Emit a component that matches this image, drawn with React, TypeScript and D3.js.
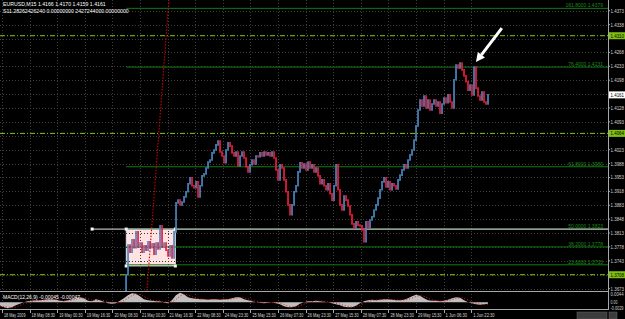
import React from 'react';
import * as d3 from 'd3';

const W = 625;
const H = 319;
const PLOT_R = 608;
const MAIN_BOT = 291;

// time axis labels (one every 64 M15 bars)
const timeLabels = [
  '18 May 2009', '18 May 08:30', '19 May 00:30', '19 May 16:30', '20 May 08:30', '21 May 00:30',
  '21 May 16:30', '22 May 08:30', '24 May 23:30', '25 May 15:30', '26 May 07:30', '26 May 23:30',
  '27 May 15:30', '28 May 07:30', '28 May 23:30', '29 May 15:30', '1 Jun 06:30', '1 Jun 22:30',
];
const BARS_PER_LABEL = 64;
const FIRST_LABEL_BAR = -64;

// price axis tick labels
const priceTicks = [
  1.4373, 1.4338, 1.4303, 1.4268, 1.4233, 1.4198, 1.4163, 1.4128, 1.4093, 1.4058, 1.4023,
  1.3988, 1.3953, 1.3918, 1.3883, 1.3848, 1.3813, 1.3778, 1.3743, 1.3708, 1.3673,
];

// EURUSD closes (resampled), first/last bar indexes
const FIRST_BAR = 219;
const LAST_BAR = 1063;
const closesA = [
  1.3645, 1.3708, 1.3783, 1.3765, 1.3796, 1.3776, 1.3816, 1.3778, 1.3788, 1.3765, 1.3781, 1.3770, 1.3791,
  1.3776, 1.3786, 1.3760, 1.3788, 1.3773, 1.3831, 1.3778, 1.3788, 1.3770, 1.3755, 1.3781, 1.3750, 1.3816,
];
const closesB = [
  1.3889, 1.3896, 1.3884, 1.3891, 1.3904, 1.3917, 1.3937, 1.3952, 1.3932, 1.3927, 1.3942, 1.3904, 1.3932,
  1.3957, 1.3962, 1.3977, 1.3992, 1.3997, 1.4015, 1.4022, 1.4035, 1.4045, 1.4017, 1.4007, 1.3990, 1.4022,
  1.4040, 1.4032, 1.4015, 1.4007, 1.4017, 1.3982, 1.4007, 1.4017, 1.4002, 1.3980, 1.3967, 1.3985, 1.3997,
  1.3987, 1.4007, 1.4005, 1.4015, 1.4007, 1.4017, 1.4010, 1.4015, 1.4007, 1.4017, 1.4002, 1.3972, 1.3947,
  1.3985, 1.3977, 1.3947, 1.3917, 1.3884, 1.3859, 1.3884, 1.3917, 1.3932, 1.3967, 1.3990,
];
const closesC = [
  1.3977, 1.3987, 1.3972, 1.3992, 1.3977, 1.3985, 1.3967, 1.3977, 1.3957, 1.3937, 1.3947, 1.3932, 1.3922,
  1.3937, 1.3912, 1.3896, 1.3932, 1.3985, 1.3922, 1.3884, 1.3871, 1.3906, 1.3896, 1.3881, 1.3859, 1.3836,
  1.3826, 1.3841, 1.3833, 1.3831, 1.3821, 1.3791, 1.3841, 1.3826, 1.3846, 1.3854, 1.3871, 1.3884, 1.3901,
  1.3922, 1.3942, 1.3952, 1.3929, 1.3942, 1.3922, 1.3937, 1.3932, 1.3924, 1.3947, 1.3959, 1.3972, 1.3985,
  1.3977, 1.3997, 1.4010, 1.4022, 1.4047, 1.4083,
];
const closesD = [
  1.4123, 1.4148, 1.4133, 1.4158, 1.4128, 1.4148, 1.4123, 1.4138, 1.4148, 1.4133, 1.4143, 1.4115, 1.4138,
  1.4153, 1.4141, 1.4161, 1.4143, 1.4128, 1.4199, 1.4236, 1.4229, 1.4241, 1.4224, 1.4209, 1.4194, 1.4173,
  1.4186, 1.4161, 1.4231, 1.4178, 1.4158, 1.4148, 1.4168, 1.4143, 1.4138, 1.4161,
];
const closes = [...closesA, ...closesB, ...closesC, ...closesD];

// MACD main (histogram) values, first/last bar
const MACD_FIRST_BAR = -69;
const macdHist = [
  -0.00175, -0.0025, -0.003, -0.0025, -0.0015, -0.00075, 0, 0.0005, 0.00075, 0.001, 0.001, 0.00125, 0.0015,
  0.0015, 0.00125, 0.00075, 0.0005, 0.001, 0.0015, 0.002, 0.0025, 0.002, 0.00075, 0.0005, 0.0015, 0.001,
  0.00025, -0.0005, -0.00075, -0.0005, 0.00075, 0.002, 0.0035, 0.0045, 0.00425, 0.003, 0.0015, 0.001,
  0.00075, 0.0005, 0.0005, -0.00025, -0.0005, 0.001, 0.0035, 0.00475, 0.004, 0.0025, 0.002, 0.00175,
  0.0015, 0.0015, 0.00125, 0.0015, 0.0015, 0.00125, 0.0015, 0.0015, 0.002, 0.0025, 0.0025, 0.0015, 0.001,
  0.0005, 0, -0.00025, -0.0005, -0.00025, 0, -0.0005, -0.001, -0.002, -0.0025, -0.0025, -0.002, -0.00075,
  0, 0.0005, 0.0005, 0.00075, 0.0005, 0.00025, 0, -0.0005, -0.001, -0.0015, -0.00225, -0.0025, -0.0025,
  -0.00175, -0.0005, 0.0005, 0.001, 0.00125, 0.001, 0.00125, 0.0015, 0.0015, 0.00125, 0.001, 0.001,
  0.00125, 0.002, 0.003, 0.00375, 0.00325, 0.002, 0.001, 0.00075, 0.00075, 0.0005, 0.00075, 0.00125,
  0.002, 0.0025, 0.00225, 0.001, 0, -0.0005, -0.001, -0.00125, -0.001, -0.00075,
];

// Fibonacci levels drawn on chart
const fibNames = ['161.8000', '76.4000', '61.8000', '50.0000', '38.2000', '23.6000'];
const fibPrices = [1.4379, 1.4231, 1.3980, 1.3823, 1.3778, 1.3733];
const FIB_START_BAR = 224;

// horizontal dash-dot levels
const levelPrices = [1.4310, 1.4064, 1.3708];
const CURRENT_PRICE = 1.4161;

// horizontal gray line, rectangle, trend line, arrow
const hLinePrice = 1.3823;
const HLINE_START_BAR = 145;
const boxBars = [224, 338];
const boxPrices = [1.3730, 1.3823];
const trendBars = [272, 323];
const trendPrices = [1.3667, 1.4400];
const arrowBars = [1095, 1035];
const arrowPrices = [1.4329, 1.4244];

const FONT = 'Liberation Sans, Arial, sans-serif';

export default function App() {
  const x = d3.scaleLinear().domain([0, BARS_PER_LABEL]).range([29.6, 57.2]);
  const y = d3.scaleLinear().domain([1.3667, 1.44]).range([MAIN_BOT, 0]);
  const ym = d3.scaleLinear().domain([-0.0029, 0.0044]).range([308, 293.5]);

  const step = (LAST_BAR - FIRST_BAR) / (closes.length - 1);
  const bars = closes.map((c, i) => {
    const o = i === 0 ? c : closes[i - 1];
    return { bx: x(FIRST_BAR + i * step), hi: Math.max(o, c), lo: Math.min(o, c), up: c >= o };
  });

  const mstep = (LAST_BAR - MACD_FIRST_BAR) / (macdHist.length - 1);
  const mpts = macdHist.map((v, i) => ({ mx: x(MACD_FIRST_BAR + i * mstep), v }));
  const signal = mpts.map((p, i) => {
    const win = macdHist.slice(Math.max(0, i - 2), i + 1);
    return { mx: p.mx, v: d3.mean(win) as number };
  });
  const area = d3.area<{ mx: number; v: number }>().x((d) => d.mx).y0(ym(0)).y1((d) => ym(d.v));
  const sigLine = d3.line<{ mx: number; v: number }>().x((d) => d.mx).y((d) => ym(d.v));

  const tickXs = timeLabels.map((_, i) => x(FIRST_LABEL_BAR + i * BARS_PER_LABEL));
  const priceYs = priceTicks.map((p) => y(p));
  const highlightYs = [...levelPrices, CURRENT_PRICE].map((p) => y(p));

  const tx0 = x(trendBars[0]), ty0 = y(trendPrices[0]);
  const tx1 = x(trendBars[1]), ty1 = y(trendPrices[1]);

  const ax0 = x(arrowBars[0]), ay0 = y(arrowPrices[0]);
  const ax1 = x(arrowBars[1]), ay1 = y(arrowPrices[1]);
  const ang = Math.atan2(ay1 - ay0, ax1 - ax0);
  const hl = 9, hw = 4.5;
  const bxp = ax1 - hl * Math.cos(ang), byp = ay1 - hl * Math.sin(ang);
  const head = [
    [ax1, ay1],
    [bxp + hw * Math.sin(ang), byp - hw * Math.cos(ang)],
    [bxp - hw * Math.sin(ang), byp + hw * Math.cos(ang)],
  ];

  const bx0 = x(boxBars[0]), bx1 = x(boxBars[1]);
  const by0 = y(boxPrices[1]), by1 = y(boxPrices[0]);

  return (
    <svg width={W} height={H} style={{ position: 'absolute', left: 0, top: 0, background: '#000' }}>
      <defs>
        <clipPath id="mainClip">
          <rect x={0} y={0} width={PLOT_R} height={MAIN_BOT} />
        </clipPath>
        <clipPath id="macdClip">
          <rect x={0} y={292} width={PLOT_R} height={17} />
        </clipPath>
      </defs>
      <rect x={0} y={0} width={W} height={H} fill="#000" />

      {/* rectangle object (background) */}
      <rect x={bx0} y={by0} width={bx1 - bx0} height={by1 - by0} fill="#ffe2e2" stroke="#e8e8e8" strokeWidth={0.8} />

      {/* grid */}
      <g stroke="#3c3c3c" strokeWidth={1} strokeDasharray="1,2" shapeRendering="crispEdges">
        {priceYs.map((py, i) => (
          <line key={'hg' + i} x1={0} x2={PLOT_R} y1={Math.round(py) + 0.5} y2={Math.round(py) + 0.5} />
        ))}
        {tickXs.map((tx, i) => (
          <line key={'vg' + i} x1={Math.round(tx) + 0.5} x2={Math.round(tx) + 0.5} y1={0} y2={308} />
        ))}
      </g>

      <g clipPath="url(#mainClip)">
        {fibPrices.map((p, i) => (
          <line key={'fl' + i} x1={x(FIB_START_BAR)} x2={PLOT_R} y1={y(p)} y2={y(p)} stroke="#137a13" strokeWidth={1} />
        ))}
        {levelPrices.map((p, i) => (
          <line key={'lv' + i} x1={0} x2={PLOT_R} y1={y(p)} y2={y(p)} stroke="#86c814" strokeWidth={1} strokeDasharray="5,2,1,2" />
        ))}
        <line x1={x(HLINE_START_BAR)} x2={PLOT_R} y1={y(hLinePrice)} y2={y(hLinePrice)} stroke="#b8b8b8" strokeWidth={1.2} />
        <rect x={x(HLINE_START_BAR) - 1.5} y={y(hLinePrice) - 1.5} width={3} height={3} fill="#fff" />
        {[bx0, bx1].map((hx) =>
          [by0, by1].map((hy) => <rect key={hx + '-' + hy} x={hx - 1.5} y={hy - 1.5} width={3} height={3} fill="#f4f4f4" />)
        )}
        <line x1={tx0} y1={ty0} x2={tx1} y2={ty1} stroke="#d00000" strokeWidth={1.1} strokeDasharray="1.5,1.5" />
        {bars.map((b, i) => (
          <line
            key={'b' + i}
            x1={b.bx}
            x2={b.bx}
            y1={y(b.hi) - 0.8}
            y2={y(b.lo) + 0.8}
            stroke={b.up ? '#4a86c0' : '#ee1c3c'}
            strokeWidth={1.7}
          />
        ))}
        <line x1={ax0} y1={ay0} x2={bxp} y2={byp} stroke="#fff" strokeWidth={3} />
        <polygon points={head.map((p) => p.join(',')).join(' ')} fill="#fff" />
        {fibPrices.map((p, i) => (
          <text key={'ft' + i} x={603} y={y(p) - 1.2} fill="#1f8a1f" fontSize={5} fontFamily={FONT} textAnchor="end">
            {fibNames[i] + '   ' + p.toFixed(4)}
          </text>
        ))}
      </g>

      {/* header */}
      <text x={3} y={6} fill="#fff" fontSize={5.2} fontFamily={FONT}>
        {'EURUSD,M15  1.4166 1.4170 1.4159 1.4161'}
      </text>
      <text x={3} y={12.5} fill="#fff" fontSize={5.2} fontFamily={FONT}>
        {'S11.28262426240 0.00000000 2427244000.00000000'}
      </text>

      {/* MACD window */}
      <g clipPath="url(#macdClip)">
        <path d={area(mpts) as string} fill="#c0c0c0" />
        <path d={sigLine(signal) as string} fill="none" stroke="#ff1010" strokeWidth={1} strokeDasharray="1,2" />
      </g>
      <text x={3} y={298.5} fill="#fff" fontSize={5} fontFamily={FONT}>
        {'MACD(12,26,9) -0.00045 -0.00047'}
      </text>

      {/* frame lines */}
      <g stroke="#a8a8a8" strokeWidth={1} shapeRendering="crispEdges">
        <line x1={0} x2={PLOT_R} y1={MAIN_BOT + 0.5} y2={MAIN_BOT + 0.5} />
        <line x1={0} x2={PLOT_R} y1={309.5} y2={309.5} />
        <line x1={PLOT_R + 0.5} x2={PLOT_R + 0.5} y1={0} y2={309.5} />
      </g>

      {/* price axis */}
      {priceTicks.map((p, i) => {
        const py = priceYs[i];
        if (highlightYs.some((hy) => Math.abs(hy - py) < 5)) return null;
        return (
          <g key={'pt' + i}>
            <line x1={PLOT_R} x2={PLOT_R + 2} y1={py} y2={py} stroke="#a8a8a8" />
            <text x={610.5} y={py + 2} fill="#d0d0d0" fontSize={5} fontFamily={FONT} textLength={13.5} lengthAdjust="spacingAndGlyphs">
              {p.toFixed(4)}
            </text>
          </g>
        );
      })}
      {levelPrices.map((p, i) => (
        <g key={'hl' + i}>
          <rect x={PLOT_R + 1} y={y(p) - 3.5} width={17} height={7} fill="#80c010" />
          <text x={610.5} y={y(p) + 2} fill="#000" fontSize={5} fontFamily={FONT} textLength={13.5} lengthAdjust="spacingAndGlyphs">
            {p.toFixed(4)}
          </text>
        </g>
      ))}
      <rect x={PLOT_R + 1} y={y(CURRENT_PRICE) - 3.5} width={17} height={7} fill="#fff" />
      <text x={610.5} y={y(CURRENT_PRICE) + 2} fill="#000" fontSize={5} fontFamily={FONT} textLength={13.5} lengthAdjust="spacingAndGlyphs">
        {CURRENT_PRICE.toFixed(4)}
      </text>
      {[0.0044, 0, -0.0029].map((v, i) => (
        <text key={'ma' + i} x={610.5} y={ym(v) + 2} fill="#d0d0d0" fontSize={4.6} fontFamily={FONT} textLength={v === 0 ? 7 : 13}
          lengthAdjust="spacingAndGlyphs">
          {v === 0 ? '0.00' : v.toFixed(4)}
        </text>
      ))}

      {/* time axis */}
      {timeLabels.map((t, i) => (
        <g key={'tl' + i}>
          <line x1={Math.round(tickXs[i]) + 0.5} x2={Math.round(tickXs[i]) + 0.5} y1={310} y2={313} stroke="#a8a8a8" />
          <text x={tickXs[i] + 2} y={316.5} fill="#d8d8d8" fontSize={5} fontFamily={FONT}
            textLength={t.length * 1.95} lengthAdjust="spacingAndGlyphs">
            {t}
          </text>
        </g>
      ))}
      <rect x={577} y={312} width={30} height={7} fill="#3c3c3c" stroke="#666" strokeWidth={0.5} />
      <rect x={609} y={312} width={8} height={7} fill="#3c3c3c" stroke="#666" strokeWidth={0.5} />
    </svg>
  );
}
